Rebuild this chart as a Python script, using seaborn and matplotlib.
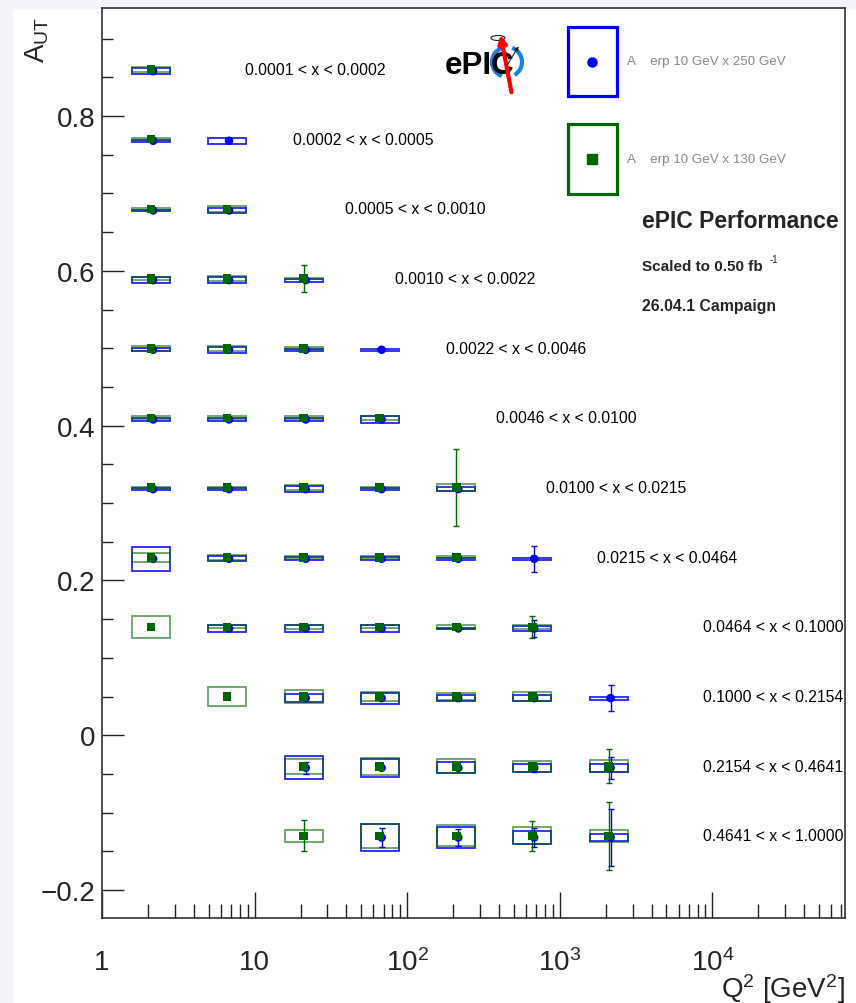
import matplotlib
matplotlib.use("Agg")
import matplotlib.pyplot as plt
import matplotlib.ticker as mticker
import numpy as np
import pandas as pd
import seaborn as sns
from matplotlib.patches import Rectangle, Arc, Ellipse

# --- data ---
Q2_CENTERS = [2.1, 6.6, 21, 66, 210, 660, 2090]
ROW_OFFSETS = [0.86, 0.77, 0.68, 0.59, 0.50, 0.41, 0.32, 0.23, 0.14, 0.05, -0.04, -0.13]
X_BIN_LABELS = [
    "0.0001 < x < 0.0002", "0.0002 < x < 0.0005", "0.0005 < x < 0.0010",
    "0.0010 < x < 0.0022", "0.0022 < x < 0.0046", "0.0046 < x < 0.0100",
    "0.0100 < x < 0.0215", "0.0215 < x < 0.0464", "0.0464 < x < 0.1000",
    "0.1000 < x < 0.2154", "0.2154 < x < 0.4641", "0.4641 < x < 1.0000",
]

# 10 GeV x 250 GeV (blue)
BLUE_ROW = [0, 1, 1, 2, 2, 3, 3, 3, 4, 4, 4, 4, 5, 5, 5, 5, 6, 6, 6, 6, 6,
            7, 7, 7, 7, 7, 7, 8, 8, 8, 8, 8, 9, 9, 9, 9, 9,
            10, 10, 10, 10, 10, 11, 11, 11, 11]
BLUE_BIN = [0, 0, 1, 0, 1, 0, 1, 2, 0, 1, 2, 3, 0, 1, 2, 3, 0, 1, 2, 3, 4,
            0, 1, 2, 3, 4, 5, 1, 2, 3, 4, 5, 2, 3, 4, 5, 6,
            2, 3, 4, 5, 6, 3, 4, 5, 6]
BLUE_SYST = [.004, .001, .004, .001, .003, .004, .004, .002, .002, .004, .001, .001,
             .002, .002, .002, .004, .001, .001, .004, .001, .003,
             .0155, .003, .002, .002, .001, .001, .004, .004, .004, .001, .003,
             .005, .007, .004, .004, .002,
             .015, .012, .007, .005, .005, .018, .013, .009, .0045]
BLUE_STAT = [0, 0, 0, 0, 0, 0, 0, 0, 0, 0, 0, 0,
             0, 0, 0, 0, 0, 0, 0, 0, 0,
             0, 0, 0, 0, 0, .017, 0, 0, 0, 0, .011,
             0, 0, 0, 0, .017,
             .008, 0, 0, .006, .014, .012, .011, .012, .037]

# 10 GeV x 130 GeV (green)
GREEN_ROW = [0, 1, 2, 2, 3, 3, 3, 4, 4, 4, 5, 5, 5, 5, 6, 6, 6, 6, 6,
             7, 7, 7, 7, 7, 8, 8, 8, 8, 8, 8, 9, 9, 9, 9, 9,
             10, 10, 10, 10, 10, 11, 11, 11, 11, 11]
GREEN_BIN = [0, 0, 0, 1, 0, 1, 2, 0, 1, 2, 0, 1, 2, 3, 0, 1, 2, 3, 4,
             0, 1, 2, 3, 4, 0, 1, 2, 3, 4, 5, 1, 2, 3, 4, 5,
             2, 3, 4, 5, 6, 2, 3, 4, 5, 6]
GREEN_SYST = [.003, .001, .001, .004, .002, .003, .001, .003, .003, .001,
              .002, .002, .002, .003, .001, .001, .003, .001, .004,
              .006, .003, .002, .002, .001, .014, .002, .003, .002, .0026, .003,
              .012, .008, .006, .005, .006,
              .010, .011, .009, .007, .008, .008, .016, .0135, .011, .008]
GREEN_STAT = [0, 0, 0, 0, 0, 0, .018, 0, 0, 0,
              0, 0, 0, 0, 0, 0, 0, 0, .05,
              0, 0, 0, 0, 0, 0, 0, 0, 0, 0, .014,
              0, 0, 0, 0, 0,
              0, 0, 0, 0, .022, .020, 0, 0, .019, .044]

# --- layout constants (pixels in the 856x1004 image) ---
W, H = 856, 1004
AX_L, AX_R, AX_T, AX_B = 102, 845, 9, 919
LABEL_X_PX = [245, 293, 345, 395, 446, 496, 546, 597, 703, 703, 703, 703]
BOX_FACTOR = 1.33          # half width of the boxes in log(Q2)
BLUE_NUDGE = (1.03, -0.002)

BLUE = "#0000ff"
GREEN = "#006600"


def fpx(x, y):
    return x / W, 1 - y / H


def series_frame(rows, bins, syst, stat, beam, nudge=(1.0, 0.0)):
    return pd.DataFrame({
        "Q2": [Q2_CENTERS[b] * nudge[0] for b in bins],
        "Q2c": [Q2_CENTERS[b] for b in bins],
        "A": [ROW_OFFSETS[r] + nudge[1] for r in rows],
        "syst": syst,
        "stat": stat,
        "beam": beam,
    })


blue_df = series_frame(BLUE_ROW, BLUE_BIN, BLUE_SYST, BLUE_STAT, "250", BLUE_NUDGE)
green_df = series_frame(GREEN_ROW, GREEN_BIN, GREEN_SYST, GREEN_STAT, "130")
df = pd.concat([blue_df, green_df], ignore_index=True)

sns.set_theme(style="ticks")
plt.rcParams["font.family"] = ["Liberation Sans", "DejaVu Sans"]
plt.rcParams["mathtext.fontset"] = "custom"
plt.rcParams["mathtext.rm"] = "Liberation Sans"
plt.rcParams["mathtext.it"] = "Liberation Sans:italic"

fig = plt.figure(figsize=(W / 100, H / 100), dpi=100)
fig.patch.set_facecolor("white")
# light page margin at top/left like the screenshot
fig.add_artist(Rectangle((0, 0), 12 / W, 1, transform=fig.transFigure, color="#f3f4f7", zorder=-5))
fig.add_artist(Rectangle((0, 1 - 9 / H), 1, 9 / H, transform=fig.transFigure, color="#f3f4f7", zorder=-5))

ax = fig.add_axes([AX_L / W, 1 - AX_B / H, (AX_R - AX_L) / W, (AX_B - AX_T) / H])
ax.set_xscale("log")

# systematic boxes
for sub, col, alpha in [(blue_df, BLUE, 0.85), (green_df, GREEN, 0.6)]:
    for _, r in sub.iterrows():
        x0 = r["Q2c"] / BOX_FACTOR
        ax.add_patch(Rectangle((x0, r["A"] - r["syst"]), r["Q2c"] * BOX_FACTOR - x0, 2 * r["syst"],
                               fill=False, edgecolor=col, lw=1.3, alpha=alpha, zorder=2))

# statistical error bars
for sub, col in [(blue_df, BLUE), (green_df, GREEN)]:
    s = sub[sub["stat"] > 0]
    ax.errorbar(s["Q2"], s["A"], yerr=s["stat"], fmt="none", ecolor=col, elinewidth=1,
                capsize=2.5, capthick=1, zorder=3)

sns.scatterplot(data=df, x="Q2", y="A", hue="beam", style="beam",
                markers={"250": "o", "130": "s"}, palette={"250": BLUE, "130": GREEN},
                s=38, linewidth=0, legend=False, ax=ax, zorder=5)

# x-bin labels
for lbl, xp, off in zip(X_BIN_LABELS, LABEL_X_PX, ROW_OFFSETS):
    ax.text((xp - AX_L) / (AX_R - AX_L), off, lbl, transform=ax.get_yaxis_transform(),
            ha="left", va="center", fontsize=11.3, color="black")

ax.set_xlim(1, 7.4e4)
ax.set_ylim(-0.236, 0.9395)
ax.set_xlabel("")
ax.set_ylabel("")

ax.xaxis.set_major_locator(mticker.FixedLocator([1, 10, 100, 1000, 10000]))
ax.xaxis.set_major_formatter(mticker.FixedFormatter(["1", "10", "$10^2$", "$10^3$", "$10^4$"]))
ax.xaxis.set_minor_locator(mticker.LogLocator(base=10, subs=np.arange(2, 10), numticks=20))
ax.xaxis.set_minor_formatter(mticker.NullFormatter())
ax.yaxis.set_major_locator(mticker.MultipleLocator(0.2))
ax.yaxis.set_minor_locator(mticker.MultipleLocator(0.05))
ax.yaxis.set_major_formatter(mticker.FuncFormatter(lambda v, p: "0" if abs(v) < 1e-9 else f"{v:.1f}".replace("-", "\u2212")))

ax.tick_params(axis="both", which="both", direction="in", color="#222", width=1,
               top=False, right=False, labelsize=20)
ax.tick_params(axis="y", which="major", length=16, pad=5)
ax.tick_params(axis="y", which="minor", length=8)
ax.tick_params(axis="x", which="major", length=19, pad=22)
ax.tick_params(axis="x", which="minor", length=10)
for sp in ax.spines.values():
    sp.set_color("#333")
    sp.set_linewidth(1.2)

# axis titles
fig.text(*fpx(37, 17), r"A$_{\mathrm{UT}}$", rotation=90, ha="center", va="top", fontsize=20)
fig.text(*fpx(845, 998), "Q$^2$ [GeV$^2$]", ha="right", va="baseline", fontsize=20)

# performance labels
fig.text(*fpx(642, 228), "ePIC Performance", fontsize=16.5, fontweight="bold", va="baseline")
fig.text(*fpx(642, 271), "Scaled to 0.50 fb", fontsize=11, fontweight="bold", va="baseline")
fig.text(*fpx(770, 263), "-1", fontsize=7, va="baseline")
fig.text(*fpx(642, 311), "26.04.1 Campaign", fontsize=11.3, fontweight="bold", va="baseline")

# legend boxes
for (top, bot), col, mk, txt in [((28, 97), BLUE, "o", "A    erp 10 GeV x 250 GeV"),
                                 ((125, 195), GREEN, "s", "A    erp 10 GeV x 130 GeV")]:
    x0, y0 = fpx(568, bot)
    x1, y1 = fpx(617, top)
    fig.add_artist(Rectangle((x0, y0), x1 - x0, y1 - y0, transform=fig.transFigure,
                             fill=False, edgecolor=col, lw=2.3))
    cx, cy = fpx(592, (top + bot) / 2)
    fig.add_artist(plt.Line2D([cx], [cy], marker=mk, color=col, markersize=6.5,
                              transform=fig.transFigure))
    fig.text(*fpx(627, (top + bot) / 2), txt, fontsize=9.6, color="#8a8a8a", va="center")

# ePIC logo (simplified)
lax = fig.add_axes([440 / W, 1 - 100 / H, 85 / W, 75 / H])
lax.set_xlim(440, 525)
lax.set_ylim(100, 25)
lax.axis("off")
lax.add_patch(Arc((507, 63), 30, 30, theta1=-70, theta2=60, color="#1e7fe0", lw=3))
lax.add_patch(Arc((507, 63), 30, 30, theta1=110, theta2=250, color="#1e7fe0", lw=3))
lax.text(480, 66, "ePIC", fontsize=22.5, fontweight="bold", ha="center", va="center", color="black")
lax.annotate("", xy=(500, 33), xytext=(512, 96),
             arrowprops=dict(arrowstyle="-|>", color="red", lw=3, mutation_scale=12))
lax.annotate("", xy=(520, 45), xytext=(506, 68),
             arrowprops=dict(arrowstyle="-|>", color="#222", lw=0.8, mutation_scale=6))
lax.add_patch(Ellipse((498, 39), 14, 5, fill=False, color="#222", lw=0.8))

fig.savefig("out.png", dpi=100)
